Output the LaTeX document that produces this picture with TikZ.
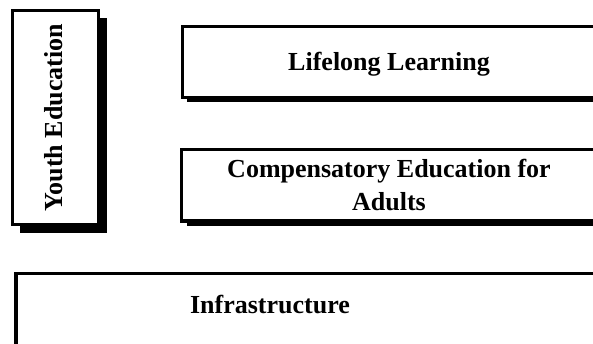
\documentclass[tikz,border=0pt]{standalone}
\usepackage{fontspec}
\setmainfont{Liberation Serif}
\usetikzlibrary{shadows}
\tikzset{
  sbox/.style={draw=black, line width=3.3pt, fill=white, rectangle, inner sep=0pt,
    anchor=north west, drop shadow={shadow xshift=#1, shadow yshift=-#1, opacity=1, fill=black}},
  sbox/.default=5pt,
  lbl/.style={font=\bfseries\fontsize{26}{33}\selectfont, inner sep=0pt, align=center}
}
\begin{document}
\begin{tikzpicture}[x=1pt,y=-1pt]
\useasboundingbox (0,0) rectangle (593,343);
\clip (0,0) rectangle (593,343);
% boxes
\node[sbox=8pt, minimum width=86.5pt, minimum height=214.5pt] (youth) at (10.5,8.5) {};
\node[sbox=4.5pt, minimum width=425pt, minimum height=71.5pt] (life) at (181,24.5) {};
\node[sbox=5.5pt, minimum width=425pt, minimum height=71.5pt] (comp) at (180,147.7) {};
\node[sbox=5pt, minimum width=600pt, minimum height=72.3pt] (infra) at (14.3,271.7) {};
% labels
\node[lbl, rotate=90, anchor=base] (youthT) at (62,117.5) {Youth Education};
\node[lbl, anchor=base] (lifeT) at (389,70) {Lifelong Learning};
\node[lbl, anchor=north] (compT) at (389,158.5) {Compensatory Education for\\Adults};
\node[lbl, anchor=base] (infraT) at (270,313) {Infrastructure};
\end{tikzpicture}
\end{document}
